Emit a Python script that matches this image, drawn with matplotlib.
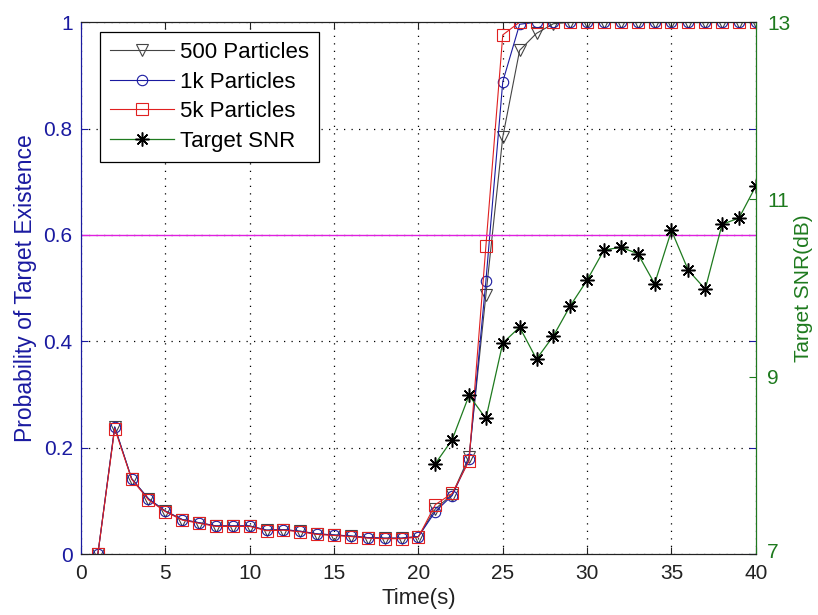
import numpy as np
import matplotlib
matplotlib.use('Agg')
import matplotlib.pyplot as plt
import matplotlib.transforms as mtransforms

plt.rcParams['font.family'] = ['Liberation Sans', 'DejaVu Sans']

# ------------------------------------------------
# data

t = list(range(1, 41))

p500 = [0.0, 0.239, 0.142, 0.104, 0.081, 0.065, 0.059, 0.053, 0.053, 0.053,
        0.045, 0.046, 0.043, 0.038, 0.036, 0.034, 0.031, 0.030, 0.030, 0.033,
        0.085, 0.112, 0.183, 0.487, 0.784, 0.947, 0.979, 0.997, 1.0, 1.0,
        1.0, 1.0, 1.0, 1.0, 1.0, 1.0, 1.0, 1.0, 1.0, 1.0]

p1k = [0.0, 0.239, 0.142, 0.104, 0.081, 0.065, 0.059, 0.053, 0.053, 0.053,
       0.045, 0.046, 0.043, 0.038, 0.036, 0.034, 0.031, 0.030, 0.030, 0.033,
       0.080, 0.110, 0.178, 0.513, 0.888, 0.996, 1.0, 1.0, 1.0, 1.0,
       1.0, 1.0, 1.0, 1.0, 1.0, 1.0, 1.0, 1.0, 1.0, 1.0]

p5k = [0.0, 0.236, 0.141, 0.102, 0.080, 0.064, 0.058, 0.052, 0.052, 0.052,
       0.044, 0.045, 0.042, 0.037, 0.035, 0.033, 0.030, 0.029, 0.029, 0.032,
       0.093, 0.114, 0.175, 0.579, 0.976, 1.0, 1.0, 1.0, 1.0, 1.0,
       1.0, 1.0, 1.0, 1.0, 1.0, 1.0, 1.0, 1.0, 1.0, 1.0]

t_snr = list(range(21, 41))
snr = [8.02, 8.29, 8.79, 8.53, 9.38, 9.56, 9.20, 9.46, 9.80, 10.09,
       10.43, 10.46, 10.39, 10.05, 10.65, 10.20, 9.99, 10.72, 10.79, 11.15]

threshold = 0.6

xticks = [0, 5, 10, 15, 20, 25, 30, 35, 40]
yticks_l = [0, 0.2, 0.4, 0.6, 0.8, 1]
ylabels_l = ['0', '0.2', '0.4', '0.6', '0.8', '1']
yticks_r = [7, 9, 11, 13]

# ------------------------------------------------

blue = '#1a1aa0'
green = '#1e7a1e'
fs = 15

fig = plt.figure(figsize=(8.18, 6.15), dpi=100)
ax = fig.add_axes([0.099, 0.099, 0.825, 0.865])
ax2 = ax.twinx()

l500, = ax.plot(t, p500, color='#444444', lw=0.8, marker='v', ms=8.5,
                mfc='none', mec='#444444', mew=0.8)
l1k, = ax.plot(t, p1k, color=blue, lw=0.8, marker='o', ms=7.5,
               mfc='none', mec=blue, mew=0.8)
l5k, = ax.plot(t, p5k, color='#e02020', lw=0.8, marker='s', ms=8,
               mfc='none', mec='#e02020', mew=0.8)
ax.axhline(threshold, color='#e020e0', lw=1.0)

lsnr, = ax2.plot(t_snr, snr, color=green, lw=0.9, marker=(8, 2, 0), ms=10,
                 mfc='k', mec='k', mew=1.1)

ax.set_xlim(0, 40)
ax.set_ylim(0, 1)
ax.set_xticks(xticks)
ax.set_yticks(yticks_l)
ax.set_yticklabels(ylabels_l)
ax.grid(True, linestyle=(0, (1, 5)), color='k', linewidth=0.9)
ax.tick_params(direction='in', top=True, right=True, length=5, labelsize=fs)
ax.tick_params(axis='y', colors=blue, labelcolor=blue, pad=6)
ax.tick_params(axis='x', colors='#222222', labelcolor='#222222', pad=7)
ax.set_xlabel('Time(s)', fontsize=fs + 1, color='#222222', labelpad=4)
ax.set_ylabel('Probability of Target Existence', fontsize=fs + 1.5, color=blue, labelpad=5)

ax2.set_ylim(7, 13)
ax2.set_yticks(yticks_r)
ax2.tick_params(direction='in', length=5, labelsize=fs, colors=green, labelcolor=green, pad=8)
ax2.set_ylabel('Target SNR(dB)', fontsize=fs, color=green, labelpad=3)

# bottom right label sits above the axis line like in the reference
lab7 = ax2.get_yticklabels()[0]
lab7.set_transform(lab7.get_transform() + mtransforms.ScaledTranslation(0, 4 / 100, fig.dpi_scale_trans))

ax.spines['left'].set_color(blue)
ax2.spines['left'].set_color(blue)
ax2.spines['right'].set_color(green)
for s in ['top', 'bottom']:
    ax.spines[s].set_color('#222222')
    ax2.spines[s].set_color('#222222')

leg = ax2.legend([l500, l1k, l5k, lsnr],
                 ['500 Particles', '1k Particles', '5k Particles', 'Target SNR'],
                 loc='upper left', bbox_to_anchor=(0.028, 0.981), borderaxespad=0,
                 fancybox=False, edgecolor='k', framealpha=1, fontsize=fs + 1,
                 handlelength=2.9, handletextpad=0.25, labelspacing=0.38,
                 borderpad=0.45)
leg.get_frame().set_linewidth(0.9)

fig.savefig('out.png', dpi=100)
